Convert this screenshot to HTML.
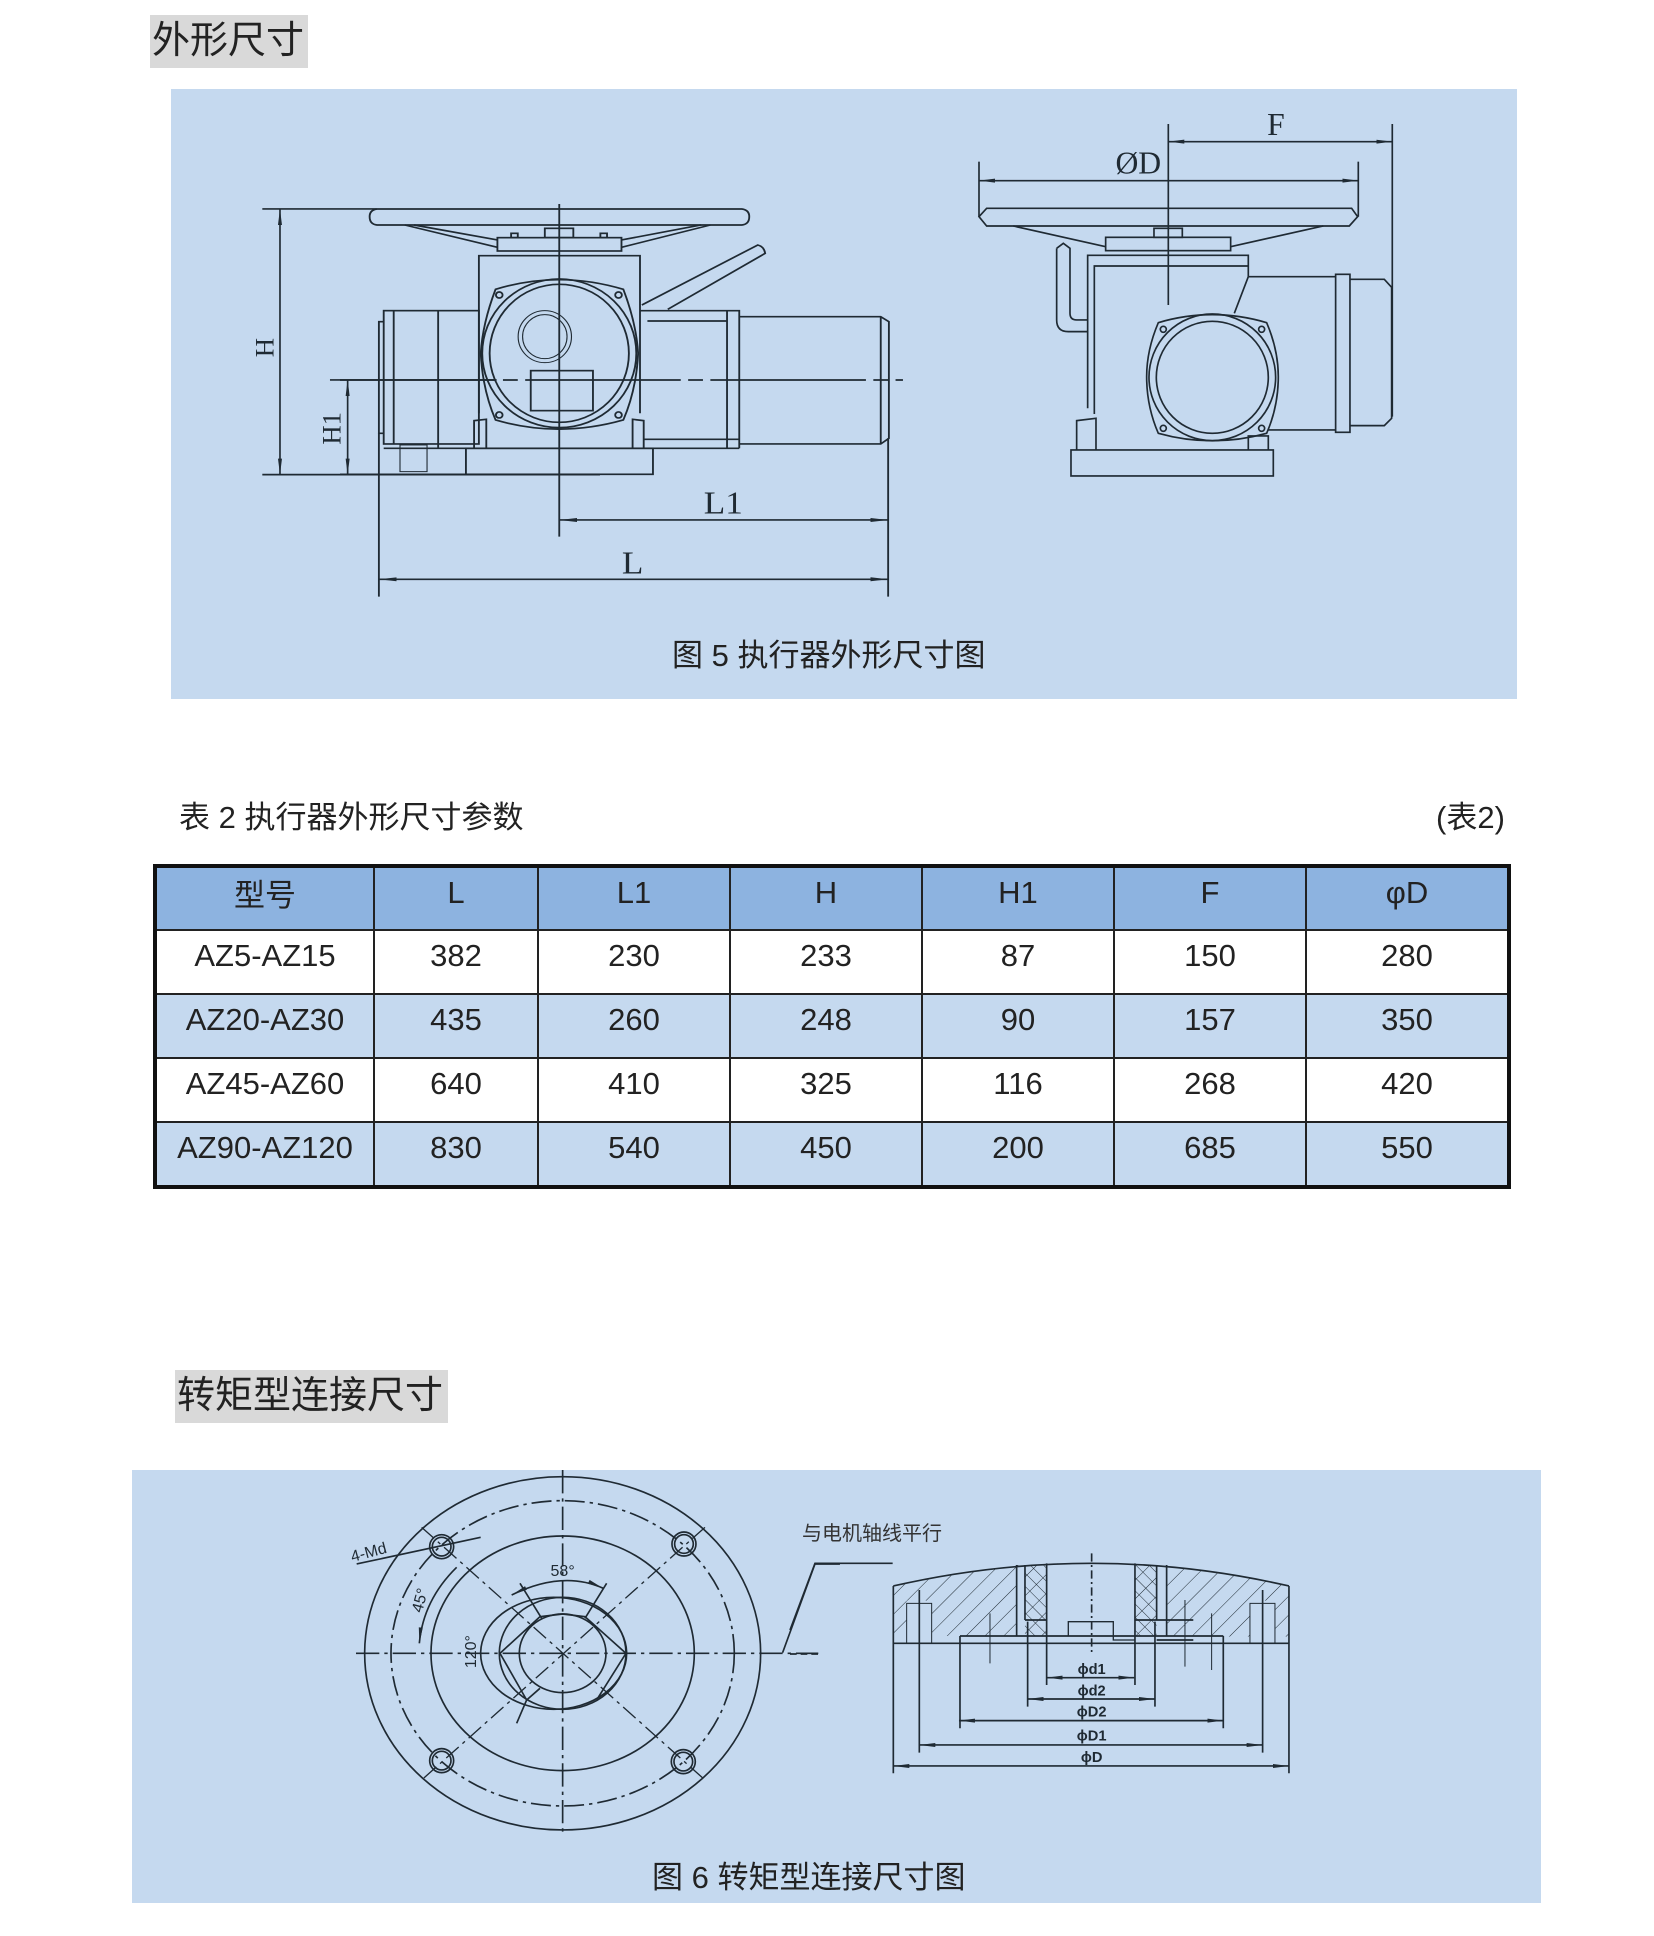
<!DOCTYPE html>
<html><head><meta charset="utf-8"><style>
html,body{margin:0;padding:0;background:#fff;}
body{width:1654px;height:1936px;position:relative;overflow:hidden;font-family:"Liberation Sans","Noto Sans CJK SC",sans-serif;color:#222;}
.abs{position:absolute;}
.title{background:#d9d9d9;font-size:38px;line-height:53px;white-space:nowrap;color:#222;}
.panel{background:#c5d9ef;}
table{border-collapse:collapse;position:absolute;left:153px;top:864px;width:1358px;border:4px solid #111;}
td{border:2px solid #222;text-align:center;font-size:31px;padding:0 0 12px 0;height:50px;color:#222;}
tr.h td{background:#8db3e0;height:49px;}
tr.b td{background:#c5d9ef;}
</style></head><body>
<div class="abs title" style="left:150px;top:15px;width:156px;height:53px;padding-left:2px;">外形尺寸</div>
<div class="abs panel" style="left:171px;top:89px;width:1346px;height:610px;"></div>
<div class="abs" style="left:672px;top:630px;font-size:31px;white-space:nowrap;">图 5 执行器外形尺寸图</div>
<div class="abs" style="left:179px;top:792px;font-size:31px;white-space:nowrap;">表 2 执行器外形尺寸参数</div>
<div class="abs" style="left:1436px;top:792px;font-size:31px;white-space:nowrap;">(表2)</div>
<table>
<tr class="h"><td style="width:216px">型号</td><td style="width:162px">L</td><td style="width:190px">L1</td><td style="width:190px">H</td><td style="width:190px">H1</td><td style="width:190px">F</td><td>φD</td></tr>
<tr><td>AZ5-AZ15</td><td>382</td><td>230</td><td>233</td><td>87</td><td>150</td><td>280</td></tr>
<tr class="b"><td>AZ20-AZ30</td><td>435</td><td>260</td><td>248</td><td>90</td><td>157</td><td>350</td></tr>
<tr><td>AZ45-AZ60</td><td>640</td><td>410</td><td>325</td><td>116</td><td>268</td><td>420</td></tr>
<tr class="b"><td>AZ90-AZ120</td><td>830</td><td>540</td><td>450</td><td>200</td><td>685</td><td>550</td></tr>
</table>
<div class="abs title" style="left:175px;top:1370px;width:271px;height:53px;padding-left:2px;">转矩型连接尺寸</div>
<div class="abs panel" style="left:132px;top:1470px;width:1409px;height:433px;"></div>
<div class="abs" style="left:652px;top:1852px;font-size:31px;white-space:nowrap;">图 6 转矩型连接尺寸图</div>
<div class="abs" style="left:802px;top:1517px;font-size:20px;white-space:nowrap;color:#333;">与电机轴线平行</div>

<svg class="abs" style="left:0;top:0" width="1654" height="1936" viewBox="0 0 1654 1936">
<defs>
<marker id="a" markerUnits="userSpaceOnUse" markerWidth="50" markerHeight="20" refX="48" refY="8" orient="auto-start-reverse" viewBox="0 0 50 16"><path d="M0,2 L48,8 L0,14 Z" fill="#1f2a33"/></marker>
<pattern id="hat" patternUnits="userSpaceOnUse" width="40" height="40" patternTransform="rotate(45)"><line x1="0" y1="0" x2="0" y2="40" stroke="#1f2a33" stroke-width="3"/></pattern>
<pattern id="hat2" patternUnits="userSpaceOnUse" width="28" height="28" patternTransform="rotate(-45)"><line x1="0" y1="0" x2="0" y2="28" stroke="#1f2a33" stroke-width="3"/></pattern>
</defs>
<g fill="none" stroke="#1f2a33" stroke-width="5">
<g transform="translate(100,0) scale(0.3333)">
<line x1="487" y1="627" x2="830" y2="627"/>
<line x1="487" y1="1424" x2="1500" y2="1424"/>
<line x1="690" y1="1140" x2="1190" y2="1140"/>
<line x1="540" y1="627" x2="540" y2="1424" marker-start="url(#a)" marker-end="url(#a)"/>
<line x1="743" y1="1140" x2="743" y2="1424" marker-start="url(#a)" marker-end="url(#a)"/>
<text x="0" y="0" transform="translate(520,1043) rotate(-90)" font-family="Liberation Serif,serif" font-size="80" fill="#1f2a33" stroke="none" text-anchor="middle">H</text>
<text x="0" y="0" transform="translate(722,1285) rotate(-90)" font-family="Liberation Serif,serif" font-size="80" fill="#1f2a33" stroke="none" text-anchor="middle">H1</text>
</g>
<g transform="translate(340,190) scale(0.37037,0.3333)">
<path d="M100,57 L1085,57 Q1105,60 1105,80 Q1105,103 1085,105 L100,105 Q80,103 80,80 Q80,60 100,57 Z"/>
<path d="M175,105 L425,172 M200,105 L425,150 M1000,105 L760,172 M975,105 L760,150"/>
<rect x="425" y="143" width="335" height="40"/>
<rect x="553" y="115" width="77" height="28"/>
<rect x="462" y="130" width="18" height="13"/><rect x="703" y="130" width="18" height="13"/>
<path d="M375,670 L375,197 L810,197 L810,670"/>
<path d="M420,298 Q590,240 765,298 Q800,400 805,490 Q800,600 765,690 Q590,745 420,690 Q385,600 380,490 Q385,400 420,298 Z"/>
<ellipse cx="592" cy="490" rx="208" ry="223"/>
<ellipse cx="592" cy="490" rx="188" ry="207"/>
<circle cx="430" cy="315" r="9"/><circle cx="752" cy="315" r="9"/><circle cx="430" cy="675" r="9"/><circle cx="752" cy="675" r="9"/>
<ellipse cx="553" cy="440" rx="72" ry="78" stroke-width="3"/><ellipse cx="553" cy="440" rx="60" ry="66" stroke-width="3"/>
<rect x="515" y="542" width="168" height="120"/>
<rect x="118" y="362" width="257" height="400"/>
<line x1="145" y1="362" x2="145" y2="762"/><line x1="265" y1="362" x2="265" y2="775"/>
<path d="M118,395 L105,395 L105,730 L118,730"/>
<rect x="162" y="765" width="73" height="80" stroke-width="3"/>
<line x1="118" y1="775" x2="1078" y2="775"/>
<rect x="340" y="775" width="505" height="78"/>
<line x1="0" y1="853" x2="340" y2="853"/>
<path d="M362,775 L362,692 L395,688 L395,775 M790,775 L790,688 L820,692 L820,775"/>
<path d="M810,362 L1078,362 L1078,775 M820,748 L1078,748 M830,393 L1045,393 M1045,362 L1045,775"/>
<path d="M1078,380 L1460,380 L1482,395 L1482,745 L1460,762 L1078,762 M1460,380 L1460,762"/>
<path d="M815,345 L1128,165 Q1145,170 1148,190 L885,358"/>
<line x1="0" y1="570" x2="1520" y2="570" stroke-dasharray="420,20,40,20"/>
<line x1="592" y1="42" x2="592" y2="1040"/>
<line x1="105" y1="730" x2="105" y2="1220"/>
<line x1="1480" y1="745" x2="1480" y2="1220"/>
<line x1="592" y1="990" x2="1480" y2="990" marker-start="url(#a)" marker-end="url(#a)"/>
<line x1="105" y1="1168" x2="1480" y2="1168" marker-start="url(#a)" marker-end="url(#a)"/>
<text x="1035" y="970" font-family="Liberation Serif,serif" font-size="95" fill="#1f2a33" stroke="none" text-anchor="middle">L1</text>
<text x="790" y="1150" font-family="Liberation Serif,serif" font-size="95" fill="#1f2a33" stroke="none" text-anchor="middle">L</text>
</g>
<g transform="translate(960,100) scale(0.3333)">
<line x1="625" y1="72" x2="625" y2="615"/>
<line x1="1297" y1="72" x2="1297" y2="950"/>
<line x1="625" y1="125" x2="1297" y2="125" marker-start="url(#a)" marker-end="url(#a)"/>
<line x1="57" y1="185" x2="57" y2="350"/><line x1="1195" y1="185" x2="1195" y2="350"/>
<line x1="57" y1="242" x2="1195" y2="242" marker-start="url(#a)" marker-end="url(#a)"/>
<text x="948" y="105" font-family="Liberation Serif,serif" font-size="95" fill="#1f2a33" stroke="none" text-anchor="middle">F</text>
<text x="535" y="220" font-family="Liberation Serif,serif" font-size="95" fill="#1f2a33" stroke="none" text-anchor="middle">ØD</text>
<path d="M80,325 L1175,325 L1193,350 L1168,378 L80,378 L57,350 Z"/>
<path d="M160,378 L437,440 M1090,378 L812,440"/>
<rect x="437" y="412" width="375" height="40"/>
<rect x="582" y="385" width="85" height="27"/>
<path d="M383,925 L383,466 L865,466 L865,530 M403,942 L403,498 L865,498"/>
<path d="M865,530 L1127,530 M925,990 L1127,990 M865,530 L823,640"/>
<rect x="1127" y="523" width="43" height="474"/>
<path d="M1170,538 L1273,538 L1295,562 L1295,955 L1273,977 L1170,977"/>
<path d="M595,668 Q757,620 920,668 Q955,750 955,830 Q955,920 920,1000 Q757,1045 595,1000 Q560,920 560,830 Q560,750 595,668 Z"/>
<circle cx="757" cy="832" r="190"/><circle cx="757" cy="832" r="168"/>
<circle cx="610" cy="688" r="9"/><circle cx="905" cy="688" r="9"/><circle cx="610" cy="985" r="9"/><circle cx="905" cy="985" r="9"/>
<path d="M290,445 L310,430 L330,445 L330,640 Q330,660 350,660 L383,660 M290,445 L290,660 Q290,695 325,695 L383,695"/>
<rect x="333" y="1050" width="607" height="78"/>
<path d="M350,1050 L350,962 L408,955 L408,1050 M865,1050 L865,1008 L925,1008 L925,1050"/>
</g>
<g transform="translate(340,1470) scale(0.3333)">
<ellipse cx="668" cy="550" rx="594" ry="530"/>
<ellipse cx="668" cy="550" rx="515" ry="458" stroke-dasharray="60,15,10,15"/>
<ellipse cx="668" cy="550" rx="395" ry="352"/>
<ellipse cx="641" cy="550" rx="219" ry="168"/>
<ellipse cx="668" cy="550" rx="190" ry="168"/>
<ellipse cx="668" cy="550" rx="130" ry="118"/>
<path d="M605,445 L540,340 M735,445 L800,340 M480,550 L600,440 L668,432 L735,440 L858,550 M480,550 L560,690 M858,550 L770,690 M560,690 L530,760 M600,655 L560,690"/>
<path d="M515,375 Q668,300 790,355" marker-start="url(#a)" marker-end="url(#a)"/>
<path d="M350,292 Q250,390 238,520" marker-end="url(#a)"/>
<line x1="48" y1="550" x2="1435" y2="550" stroke-dasharray="70,15,10,15"/>
<line x1="668" y1="0" x2="668" y2="1095" stroke-dasharray="70,15,10,15"/>
<line x1="245" y1="172" x2="1095" y2="930" stroke-dasharray="50,15,10,15" stroke-width="4"/>
<line x1="1095" y1="172" x2="245" y2="930" stroke-dasharray="50,15,10,15" stroke-width="4"/>
<circle cx="305" cy="230" r="36"/><circle cx="305" cy="230" r="28"/>
<circle cx="1032" cy="222" r="36"/><circle cx="1032" cy="222" r="28"/>
<circle cx="305" cy="872" r="36"/><circle cx="305" cy="872" r="28"/>
<circle cx="1030" cy="875" r="36"/><circle cx="1030" cy="875" r="28"/>
<line x1="50" y1="282" x2="422" y2="202"/>
<path d="M1328,548 L1425,282 L1500,282"/>
<g fill="#1f2a33" stroke="none" font-family="Liberation Sans,sans-serif" font-size="48">
<text x="668" y="318" text-anchor="middle">58°</text>
<text transform="translate(255,395) rotate(-75)" text-anchor="middle">45°</text>
<text transform="translate(408,545) rotate(-90)" text-anchor="middle">120°</text>
<text transform="translate(90,262) rotate(-15)" text-anchor="middle">4-Md</text>
</g>
</g>
<g transform="translate(790,1510) scale(0.3333)">
<path d="M0,360 L75,160 L308,160"/>
<line x1="0" y1="432" x2="85" y2="432" stroke-dasharray="20,12"/>
<path d="M310,228 Q905,92 1497,228 L1497,380 L1300,380 L1300,378 L1130,378 L1130,165 L1100,165 L1100,378 L1035,378 L1035,160 L770,160 L770,378 L705,378 L705,165 L680,165 L680,378 L510,378 L310,378 Z" fill="url(#hat)" stroke="none"/>
<rect x="705" y="165" width="65" height="213" fill="url(#hat2)" stroke="none"/>
<rect x="1035" y="165" width="65" height="213" fill="url(#hat2)" stroke="none"/>
<rect x="350" y="272" width="75" height="126" fill="#c5d9ef" stroke="none"/>
<rect x="1380" y="272" width="75" height="126" fill="#c5d9ef" stroke="none"/>
<rect x="770" y="160" width="265" height="240" fill="#c5d9ef" stroke="none"/>
<path d="M310,228 Q905,92 1497,228"/>
<path d="M310,228 L310,790 M1497,228 L1497,790 M310,400 L1497,400"/>
<path d="M680,165 L680,378 M705,165 L705,330 M1100,165 L1100,330 M1130,165 L1130,378 M770,160 L770,525 M1035,160 L1035,525"/>
<path d="M350,400 L350,280 L425,280 L425,400 M1380,400 L1380,280 L1455,280 L1455,400" stroke-width="3"/>
<path d="M510,378 L1300,378 M510,378 L510,655 M1300,378 L1300,655 M713,335 L713,590 M1095,335 L1095,590 M705,330 L770,330 M1035,330 L1210,330 M1100,390 L1210,390"/>
<path d="M835,378 L835,335 L970,335 L970,390 L1035,390" stroke-width="4"/>
<line x1="905" y1="130" x2="905" y2="430" stroke-dasharray="25,10,6,10"/>
<line x1="388" y1="240" x2="388" y2="728"/><line x1="1418" y1="240" x2="1418" y2="728"/>
<line x1="770" y1="503" x2="1033" y2="503" marker-start="url(#a)" marker-end="url(#a)"/>
<line x1="713" y1="567" x2="1095" y2="567" marker-start="url(#a)" marker-end="url(#a)"/>
<line x1="507" y1="632" x2="1300" y2="632" marker-start="url(#a)" marker-end="url(#a)"/>
<line x1="388" y1="705" x2="1418" y2="705" marker-start="url(#a)" marker-end="url(#a)"/>
<line x1="310" y1="768" x2="1497" y2="768" marker-start="url(#a)" marker-end="url(#a)"/>
<path d="M600,310 L600,460 M1185,270 L1185,470 M1265,310 L1265,480" stroke-width="3"/>
<g fill="#1f2a33" stroke="none" font-family="Liberation Sans,sans-serif" font-size="44" font-weight="bold" text-anchor="middle">
<text x="905" y="492">ϕd1</text><text x="905" y="556">ϕd2</text><text x="905" y="620">ϕD2</text><text x="905" y="692">ϕD1</text><text x="905" y="756">ϕD</text>
</g>
</g>
</g>
</svg>
</body></html>
